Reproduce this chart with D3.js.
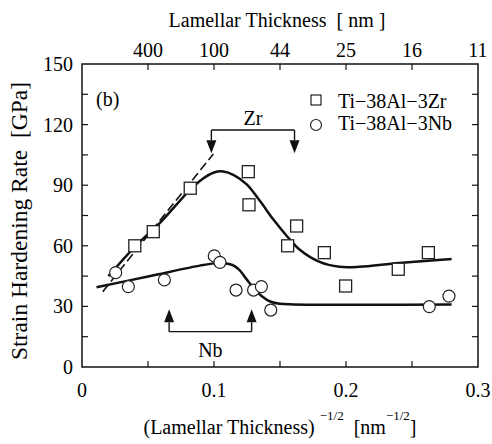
<!DOCTYPE html>
<html>
<head>
<meta charset="utf-8">
<script src="https://cdn.jsdelivr.net/npm/d3@7"></script>
<style>
  body { margin: 0; background: #fff; }
</style>
</head>
<body>
<svg id="chart" width="492" height="444"></svg>
<script>
// 数据：Ti-38Al-3Zr (方块) 和 Ti-38Al-3Nb (圆圈)
var zrX = [0.040, 0.054, 0.082, 0.126, 0.1265, 0.1558, 0.1626, 0.1836, 0.1997, 0.2396, 0.2624];
var zrY = [60, 67, 88.5, 96.7, 80.3, 60, 69.8, 56.6, 40.1, 48.4, 56.6];

var nbX = [0.0255, 0.0351, 0.0624, 0.1002, 0.1045, 0.1167, 0.130, 0.1359, 0.143, 0.2631, 0.278];
var nbY = [46.7, 39.8, 43.1, 55, 51.8, 38.1, 38.1, 39.8, 28.2, 29.9, 35.1];

// 拟合曲线 (手绘)
var zrCurveX = [0.020, 0.040, 0.060, 0.080, 0.090, 0.100, 0.107, 0.115, 0.125, 0.135, 0.145, 0.155, 0.165, 0.180, 0.195, 0.210, 0.240, 0.280];
var zrCurveY = [45, 59.5, 72, 86.5, 92.5, 96.3, 96.8, 95, 90.3, 82, 73, 65, 58, 52, 49.6, 49.6, 51.5, 53.5];

var nbCurveX = [0.011, 0.050, 0.090, 0.100, 0.108, 0.114, 0.119, 0.124, 0.130, 0.136, 0.143, 0.150, 0.160, 0.280];
var nbCurveY = [39.5, 44.8, 50.3, 51.3, 51.4, 50.5, 48.2, 44, 39, 35.2, 32.3, 31.3, 31, 31];

// 虚线
var dashX = [0.0157, 0.0995];
var dashY = [37.3, 105.5];

// 坐标轴刻度
var bottomTicks = [0, 0.1, 0.2, 0.3];
var bottomLabels = ["0", "0.1", "0.2", "0.3"];
var minorX = [0.05, 0.1, 0.15, 0.2, 0.25];
var topTicks = [0.05, 0.1, 0.15, 0.2, 0.25, 0.3];
var topLabels = ["400", "100", "44", "25", "16", "11"];
var yTicks = [0, 30, 60, 90, 120, 150];
var yMinor = [15, 30, 45, 60, 75, 90, 105, 120, 135];

// 箭头标注
var zrArrowX = [0.098, 0.161], zrArrowLevel = 117.3, zrArrowTip = 105.8;
var nbArrowX = [0.066, 0.1285], nbArrowLevel = 17.5, nbArrowTip = 28.6;

var legendNames = ["Ti\u221238Al\u22123Zr", "Ti\u221238Al\u22123Nb"];

var svg = d3.select("#chart")
    .attr("font-family", "'Liberation Serif', 'Times New Roman', 'DejaVu Serif', serif");
var pLeft = 82, pRight = 478, pTop = 64, pBottom = 367;

var x = d3.scaleLinear().domain([0, 0.3]).range([pLeft, pRight]);
var y = d3.scaleLinear().domain([0, 150]).range([pBottom, pTop]);

// 边框
svg.append("rect")
    .attr("x", pLeft).attr("y", pTop)
    .attr("width", pRight - pLeft).attr("height", pBottom - pTop)
    .attr("fill", "none").attr("stroke", "#111").attr("stroke-width", 1.5);

// 刻度线（向内）
var tickLen = 6;
var ticks = svg.append("g").attr("stroke", "#111").attr("stroke-width", 1.2);
minorX.forEach(function (v) {
    ticks.append("line").attr("x1", x(v)).attr("x2", x(v)).attr("y1", pBottom).attr("y2", pBottom - tickLen);
    ticks.append("line").attr("x1", x(v)).attr("x2", x(v)).attr("y1", pTop).attr("y2", pTop + tickLen);
});
yMinor.forEach(function (v) {
    ticks.append("line").attr("x1", pLeft).attr("x2", pLeft + tickLen).attr("y1", y(v)).attr("y2", y(v));
    ticks.append("line").attr("x1", pRight).attr("x2", pRight - tickLen).attr("y1", y(v)).attr("y2", y(v));
});

// 刻度文字
svg.append("g").selectAll("text")
    .data(bottomTicks)
    .enter().append("text")
    .attr("x", d => x(d)).attr("y", 397)
    .attr("text-anchor", "middle").attr("font-size", 20)
    .text((d, i) => bottomLabels[i]);

svg.append("g").selectAll("text")
    .data(topTicks)
    .enter().append("text")
    .attr("x", d => x(d)).attr("y", 57)
    .attr("text-anchor", "middle").attr("font-size", 20)
    .text((d, i) => topLabels[i]);

svg.append("g").selectAll("text")
    .data(yTicks)
    .enter().append("text")
    .attr("x", 73).attr("y", d => y(d) + 7)
    .attr("text-anchor", "end").attr("font-size", 20)
    .text(d => d);

// 轴标题
svg.append("text")
    .attr("x", 277).attr("y", 27)
    .attr("text-anchor", "middle").attr("font-size", 20)
    .attr("xml:space", "preserve")
    .text("Lamellar Thickness  [ nm ]");

var xt = svg.append("text")
    .attr("x", 280).attr("y", 434)
    .attr("text-anchor", "middle").attr("font-size", 20)
    .attr("xml:space", "preserve");
xt.append("tspan").text("(Lamellar Thickness) ");
xt.append("tspan").attr("font-size", 13).attr("dy", -14).text("\u22121/2");
xt.append("tspan").attr("dy", 14).text("  [nm");
xt.append("tspan").attr("font-size", 13).attr("dy", -14).text("\u22121/2");
xt.append("tspan").attr("dy", 14).text("]");

svg.append("text")
    .attr("transform", "translate(27,221) rotate(-90)")
    .attr("text-anchor", "middle").attr("font-size", 23.5)
    .attr("xml:space", "preserve")
    .text("Strain Hardening Rate  [GPa]");

// (b)
svg.append("text").attr("x", 96).attr("y", 106).attr("font-size", 20).text("(b)");

// 曲线
var line = d3.line().curve(d3.curveCatmullRom.alpha(0.5));
svg.append("path")
    .attr("d", line(zrCurveX.map((v, i) => [x(v), y(zrCurveY[i])])))
    .attr("fill", "none").attr("stroke", "#111").attr("stroke-width", 2.5);
svg.append("path")
    .attr("d", line(nbCurveX.map((v, i) => [x(v), y(nbCurveY[i])])))
    .attr("fill", "none").attr("stroke", "#111").attr("stroke-width", 2.5);
svg.append("path")
    .attr("d", d3.line()(dashX.map((v, i) => [x(v), y(dashY[i])])))
    .attr("fill", "none").attr("stroke", "#111").attr("stroke-width", 1.6)
    .attr("stroke-dasharray", "9,4");

// 箭头括号
function bracket(xs, level, tip, label, labelY) {
    var g = svg.append("g");
    var ly = y(level), ty = y(tip);
    var dir = ty > ly ? 1 : -1; // 箭头方向
    var headH = 13, headW = 5;
    g.append("line").attr("x1", x(xs[0])).attr("x2", x(xs[1])).attr("y1", ly).attr("y2", ly)
        .attr("stroke", "#111").attr("stroke-width", 1.4);
    xs.forEach(function (v) {
        var px = x(v);
        g.append("line").attr("x1", px).attr("x2", px).attr("y1", ly).attr("y2", ty - dir * headH)
            .attr("stroke", "#111").attr("stroke-width", 1.4);
        g.append("path")
            .attr("d", `M${px - headW},${ty - dir * headH} L${px + headW},${ty - dir * headH} L${px},${ty} Z`)
            .attr("fill", "#111");
    });
    g.append("text").attr("x", (x(xs[0]) + x(xs[1])) / 2).attr("y", labelY)
        .attr("text-anchor", "middle").attr("font-size", 20).text(label);
}
bracket(zrArrowX, zrArrowLevel, zrArrowTip, "Zr", 125);
bracket(nbArrowX, nbArrowLevel, nbArrowTip, "Nb", 357);

// 数据点
var sq = 12;
svg.append("g").selectAll("rect")
    .data(zrX)
    .enter().append("rect")
    .attr("x", d => x(d) - sq / 2)
    .attr("y", (d, i) => y(zrY[i]) - sq / 2)
    .attr("width", sq).attr("height", sq)
    .attr("fill", "#fff").attr("stroke", "#222").attr("stroke-width", 1.3);

svg.append("g").selectAll("circle")
    .data(nbX)
    .enter().append("circle")
    .attr("cx", d => x(d))
    .attr("cy", (d, i) => y(nbY[i]))
    .attr("r", 6)
    .attr("fill", "#fff").attr("stroke", "#222").attr("stroke-width", 1.2);

// 图例
var legend = svg.append("g").attr("transform", "translate(316,100)");
legend.append("rect").attr("x", -5).attr("y", -5).attr("width", 10).attr("height", 10)
    .attr("fill", "#fff").attr("stroke", "#222").attr("stroke-width", 1.2);
legend.append("circle").attr("cx", 0).attr("cy", 25).attr("r", 5.5)
    .attr("fill", "#fff").attr("stroke", "#222").attr("stroke-width", 1.2);
legend.selectAll(".texts")
    .data(legendNames)
    .enter().append("text")
    .attr("x", 22).attr("y", (d, i) => i * 22 + 8)
    .attr("font-size", 20)
    .text(d => d);
</script>
</body>
</html>
